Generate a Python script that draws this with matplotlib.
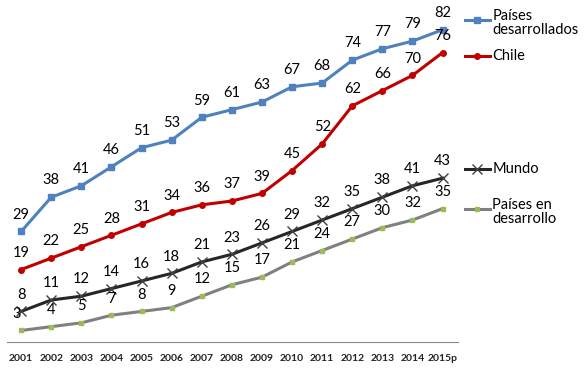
import matplotlib.pyplot as plt
from matplotlib.lines import Line2D

plt.rcParams["font.family"] = ["Lato", "DejaVu Sans"]

years = ["2001", "2002", "2003", "2004", "2005", "2006", "2007", "2008",
         "2009", "2010", "2011", "2012", "2013", "2014", "2015p"]
desarrollados = [29, 38, 41, 46, 51, 53, 59, 61, 63, 67, 68, 74, 77, 79, 82]
chile = [19, 22, 25, 28, 31, 34, 36, 37, 39, 45, 52, 62, 66, 70, 76]
mundo = [8, 11, 12, 14, 16, 18, 21, 23, 26, 29, 32, 35, 38, 41, 43]
en_desarrollo = [3, 4, 5, 7, 8, 9, 12, 15, 17, 21, 24, 27, 30, 32, 35]

fig = plt.figure(figsize=(5.86, 3.68), dpi=100)
ax = fig.add_axes([0.012, 0.071, 0.77, 0.90])
x = list(range(len(years)))

# name, values, line colour, marker, marker size, marker colour
series = [
    ("Países\ndesarrollados", desarrollados, "#4F81BD", "s", 5, "#4F81BD"),
    ("Chile", chile, "#C00000", "o", 4, "#C00000"),
    ("Mundo", mundo, "#262626", "x", 7, "#404040"),
    ("Países en\ndesarrollo", en_desarrollo, "#808080", "s", 2.5, "#9BBB59"),
]

for name, vals, col, mk, ms, mcol in series:
    ax.plot(x, vals, color=col, lw=2.2, marker=mk, markersize=ms,
            markerfacecolor=mcol, markeredgecolor=mcol, mew=1.0, zorder=3)
    for i, v in enumerate(vals):
        dx = -3 if (vals is en_desarrollo and i == 0) else 0
        ax.annotate(str(v), (i, v), xytext=(dx, 7), textcoords="offset points",
                    ha="center", va="bottom", fontsize=10.5, color="black")

ax.set_xlim(-0.47, 14.52)
ax.set_ylim(0, 87)
ax.set_xticks(x)
ax.set_xticklabels(years, fontsize=7.5, fontweight="bold", color="#222222")
ax.tick_params(length=0, pad=9)
ax.set_yticks([])
for s in ["top", "right", "left"]:
    ax.spines[s].set_visible(False)
ax.spines["bottom"].set_color("#888888")

# legend entries placed beside the line ends
legend_y = [0.946, 0.848, 0.541, 0.432]
for (name, vals, col, mk, ms, mcol), ly in zip(series, legend_y):
    fig.add_artist(Line2D([0.793, 0.8145, 0.836], [ly, ly, ly],
                          transform=fig.transFigure, color=col, lw=2.2,
                          marker=mk, markersize=ms, markerfacecolor=mcol,
                          markeredgecolor=mcol, markevery=[1], mew=1.0))
    if "\n" in name:
        fig.text(0.840, ly + 0.03, name, fontsize=10.5, va="top", ha="left",
                 linespacing=1.0)
    else:
        fig.text(0.840, ly, name, fontsize=10.5, va="center", ha="left")

fig.savefig("out.png", dpi=100)
